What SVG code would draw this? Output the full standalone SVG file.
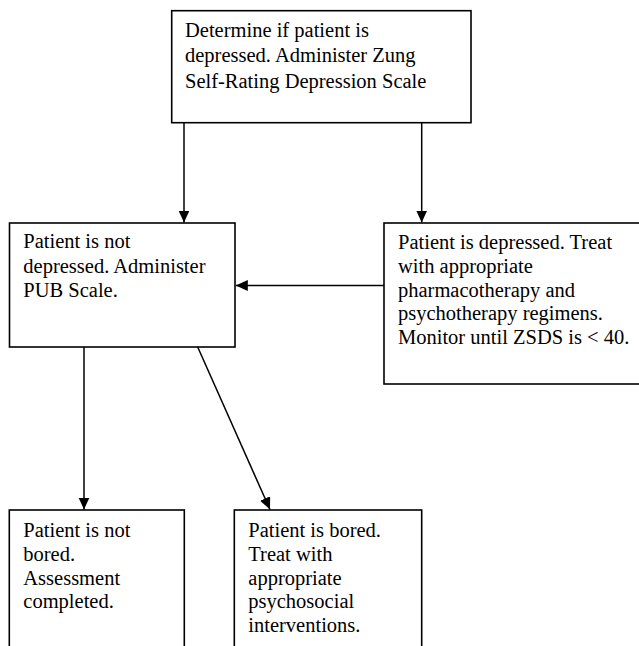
<svg xmlns="http://www.w3.org/2000/svg" width="639" height="646" viewBox="0 0 639 646">
<style>
.box{fill:#fff;stroke:#000;stroke-width:1.6}
.t{font-family:"Liberation Serif","Times New Roman",serif;font-size:20.5px;fill:#000}
.c{stroke:#000;stroke-width:1.5;fill:none}
</style>
<defs>
<marker id="ah" markerUnits="userSpaceOnUse" markerWidth="13" markerHeight="12" refX="12" refY="5.5" orient="auto">
<path d="M0,0 L12,5.5 L0,11 z" fill="#000"/>
</marker>
</defs>
<rect width="639" height="646" fill="#fff"/>
<g id="connectors">
<line class="c" x1="184" y1="122.7" x2="184" y2="222.5" marker-end="url(#ah)"/>
<line class="c" x1="421.7" y1="122.7" x2="421.7" y2="222.5" marker-end="url(#ah)"/>
<line class="c" x1="384" y1="285.5" x2="235.8" y2="285.5" marker-end="url(#ah)"/>
<line class="c" x1="84" y1="347" x2="84" y2="509.5" marker-end="url(#ah)"/>
<line class="c" x1="197.7" y1="347" x2="270" y2="509.5" marker-end="url(#ah)"/>
</g>
<g id="start">
<rect class="box" x="171.7" y="10.7" width="299.3" height="112"/>
<text class="t" x="185" y="36.7">Determine if patient is</text>
<text class="t" x="185" y="62.3">depressed. Administer Zung</text>
<text class="t" x="185" y="88">Self-Rating Depression Scale</text>
</g>
<g id="not-depressed">
<rect class="box" x="9.5" y="223" width="225.5" height="124"/>
<text class="t" x="23.3" y="248.3">Patient is not</text>
<text class="t" x="23.3" y="272.8">depressed. Administer</text>
<text class="t" x="23.3" y="297.3">PUB Scale.</text>
</g>
<g id="depressed">
<rect class="box" x="384" y="223" width="262" height="161"/>
<text class="t" x="398" y="249.3">Patient is depressed. Treat</text>
<text class="t" x="398" y="273">with appropriate</text>
<text class="t" x="398" y="296.7">pharmacotherapy and</text>
<text class="t" x="398" y="320.4">psychotherapy regimens.</text>
<text class="t" x="398" y="344">Monitor until ZSDS is &lt; 40.</text>
</g>
<g id="not-bored">
<rect class="box" x="9.3" y="510" width="175" height="150"/>
<text class="t" x="23.3" y="536.7">Patient is not</text>
<text class="t" x="23.3" y="560.7">bored.</text>
<text class="t" x="23.3" y="584.7">Assessment</text>
<text class="t" x="23.3" y="608.4">completed.</text>
</g>
<g id="bored">
<rect class="box" x="234.3" y="510" width="187.4" height="150"/>
<text class="t" x="248.3" y="536.7">Patient is bored.</text>
<text class="t" x="248.3" y="560.7">Treat with</text>
<text class="t" x="248.3" y="584.7">appropriate</text>
<text class="t" x="248.3" y="608.4">psychosocial</text>
<text class="t" x="248.3" y="632">interventions.</text>
</g>
</svg>
